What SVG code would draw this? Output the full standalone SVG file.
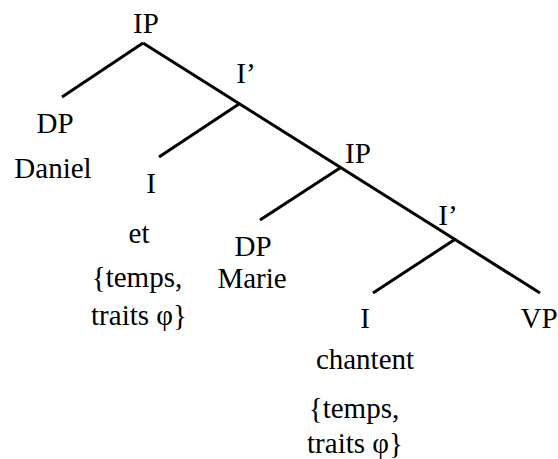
<svg xmlns="http://www.w3.org/2000/svg" width="558" height="459" viewBox="0 0 558 459">
<style>
text{font-family:"Liberation Serif","Times New Roman",serif;font-size:29px;fill:#000;text-anchor:middle}
line{stroke:#000;stroke-width:3;stroke-linecap:butt}
</style>
<rect width="558" height="459" fill="#fff"/>
<g id="connectors">
<line x1="143" y1="43" x2="62" y2="97"/>
<line x1="143" y1="43" x2="540" y2="293"/>
<line x1="239" y1="104" x2="159" y2="157"/>
<line x1="340" y1="168" x2="260" y2="220"/>
<line x1="454" y1="240" x2="373" y2="293"/>
</g>
<g id="IP1"><text x="146" y="33">IP</text></g>
<g id="Ibar1"><text x="246" y="83">I’</text></g>
<g id="DP1"><text x="55" y="133">DP</text><text x="53" y="178">Daniel</text></g>
<g id="I1"><text x="151" y="193">I</text><text x="139" y="243">et</text><text x="137" y="287">{temps,</text><text x="139" y="325">traits φ}</text></g>
<g id="IP2"><text x="358" y="163">IP</text></g>
<g id="DP2"><text x="253" y="256">DP</text><text x="252" y="288">Marie</text></g>
<g id="Ibar2"><text x="448" y="225">I’</text></g>
<g id="I2"><text x="365" y="328">I</text><text x="365" y="369">chantent</text><text x="354" y="418">{temps,</text><text x="355" y="453">traits φ}</text></g>
<g id="VP"><text x="539" y="328">VP</text></g>
</svg>
